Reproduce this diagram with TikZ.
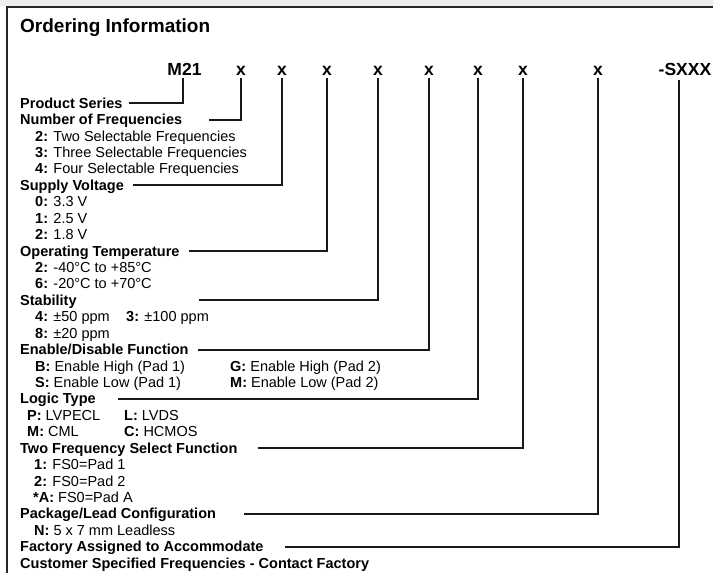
\documentclass[tikz,border=0pt]{standalone}
\usepackage{fontspec}
\setmainfont{Liberation Sans}
\def\rowb#1{108.2+16.43*#1}
\begin{document}
\begin{tikzpicture}[x=1pt,y=-1pt,
  lbl/.style={anchor=base west, inner sep=0pt, font=\fontsize{14.5}{16}\selectfont\bfseries},
  item/.style={anchor=base west, inner sep=0pt, font=\fontsize{14.5}{16}\selectfont},
  hdr/.style={anchor=base, inner sep=2.5pt, font=\fontsize{17.5}{20}\selectfont\bfseries},
  conn/.style={draw=black!90, line width=2pt},
  gap/.style={xshift=9pt,yshift=5pt}
]
\useasboundingbox (0,0) rectangle (713,573);
\fill[black!7] (0,0) rectangle (713,6);
\draw[black!85, line width=1.5pt] (7,573) -- (7,7) -- (713,7);

% title
\node[anchor=base west, inner sep=0pt, font=\fontsize{19}{22}\selectfont\bfseries] (title) at (20,32) {Ordering Information};

% header
\node[hdr] (m21) at (184.5,75) {M21};
\node[hdr] (x1) at (241,75) {x};
\node[hdr] (x2) at (282,75) {x};
\node[hdr] (x3) at (327,75) {x};
\node[hdr] (x4) at (378,75) {x};
\node[hdr] (x5) at (429,75) {x};
\node[hdr] (x6) at (478,75) {x};
\node[hdr] (x7) at (523,75) {x};
\node[hdr] (x8) at (598,75) {x};
\node[hdr, inner sep=5pt] (sx) at (685,75) {-SXXX};

% labels and items
\node[lbl] (ps) at (20,{\rowb{0}}) {Product Series};
\node[lbl] (nf) at (20,{\rowb{1}}) {Number of Frequencies};
\node[item] (nf2) at (35,{\rowb{2}}) {\textbf{2:} Two Selectable Frequencies};
\node[item] (nf3) at (35,{\rowb{3}}) {\textbf{3:} Three Selectable Frequencies};
\node[item] (nf4) at (35,{\rowb{4}}) {\textbf{4:} Four Selectable Frequencies};
\node[lbl] (sv) at (20,{\rowb{5}}) {Supply Voltage};
\node[item] (sv0) at (35,{\rowb{6}}) {\textbf{0:} 3.3 V};
\node[item] (sv1) at (35,{\rowb{7}}) {\textbf{1:} 2.5 V};
\node[item] (sv2) at (35,{\rowb{8}}) {\textbf{2:} 1.8 V};
\node[lbl] (ot) at (20,{\rowb{9}}) {Operating Temperature};
\node[item] (ot2) at (35,{\rowb{10}}) {\textbf{2:} -40°C to +85°C};
\node[item] (ot6) at (35,{\rowb{11}}) {\textbf{6:} -20°C to +70°C};
\node[lbl] (st) at (20,{\rowb{12}}) {Stability};
\node[item] (st4) at (35,{\rowb{13}}) {\textbf{4:} ±50 ppm};
\node[item] (st3) at (126,{\rowb{13}}) {\textbf{3:} ±100 ppm};
\node[item] (st8) at (35,{\rowb{14}}) {\textbf{8:} ±20 ppm};
\node[lbl] (ed) at (20,{\rowb{15}}) {Enable/Disable Function};
\node[item] (edb) at (35,{\rowb{16}}) {\textbf{B:} Enable High (Pad 1)};
\node[item] (edg) at (230,{\rowb{16}}) {\textbf{G:} Enable High (Pad 2)};
\node[item] (eds) at (35,{\rowb{17}}) {\textbf{S:} Enable Low (Pad 1)};
\node[item] (edm) at (230,{\rowb{17}}) {\textbf{M:} Enable Low (Pad 2)};
\node[lbl] (lt) at (20,{\rowb{18}}) {Logic Type};
\node[item] (ltp) at (27,{\rowb{19}}) {\textbf{P:} LVPECL};
\node[item] (ltl) at (124,{\rowb{19}}) {\textbf{L:} LVDS};
\node[item] (ltm) at (27,{\rowb{20}}) {\textbf{M:} CML};
\node[item] (ltc) at (124,{\rowb{20}}) {\textbf{C:} HCMOS};
\node[lbl] (tf) at (20,{\rowb{21}}) {Two Frequency Select Function};
\node[item] (tf1) at (34,{\rowb{22}}) {\textbf{1:} FS0=Pad 1};
\node[item] (tf2) at (34,{\rowb{23}}) {\textbf{2:} FS0=Pad 2};
\node[item] (tfa) at (33,{\rowb{24}}) {\textbf{*A:} FS0=Pad A};
\node[lbl] (pl) at (20,{\rowb{25}}) {Package/Lead Configuration};
\node[item] (pln) at (34,{\rowb{26}}) {\textbf{N:} 5 x 7 mm Leadless};
\node[lbl] (fa) at (20,{\rowb{27}}) {Factory Assigned to Accommodate};
\node[lbl] (cs) at (20,{\rowb{28}}) {Customer Specified Frequencies - Contact Factory};

% connectors
\draw[conn] ([gap,xshift=-3pt]ps.base east) -| ([xshift=-1.5pt]m21.south);
\draw[conn] ([gap,xshift=18pt]nf.base east) -| (x1.south);
\draw[conn] ([gap]sv.base east) -| (x2.south);
\draw[conn] ([gap]ot.base east) -| (x3.south);
\draw[conn] ([gap,xshift=113pt]st.base east) -| (x4.south);
\draw[conn] ([gap]ed.base east) -| (x5.south);
\draw[conn] ([gap,xshift=13pt]lt.base east) -| (x6.south);
\draw[conn] ([gap,xshift=11pt]tf.base east) -| (x7.south);
\draw[conn] ([gap,xshift=19pt]pl.base east) -| (x8.south);
\draw[conn] ([gap,xshift=12pt]fa.base east) -| ([xshift=-6pt]sx.south);
\end{tikzpicture}
\end{document}
